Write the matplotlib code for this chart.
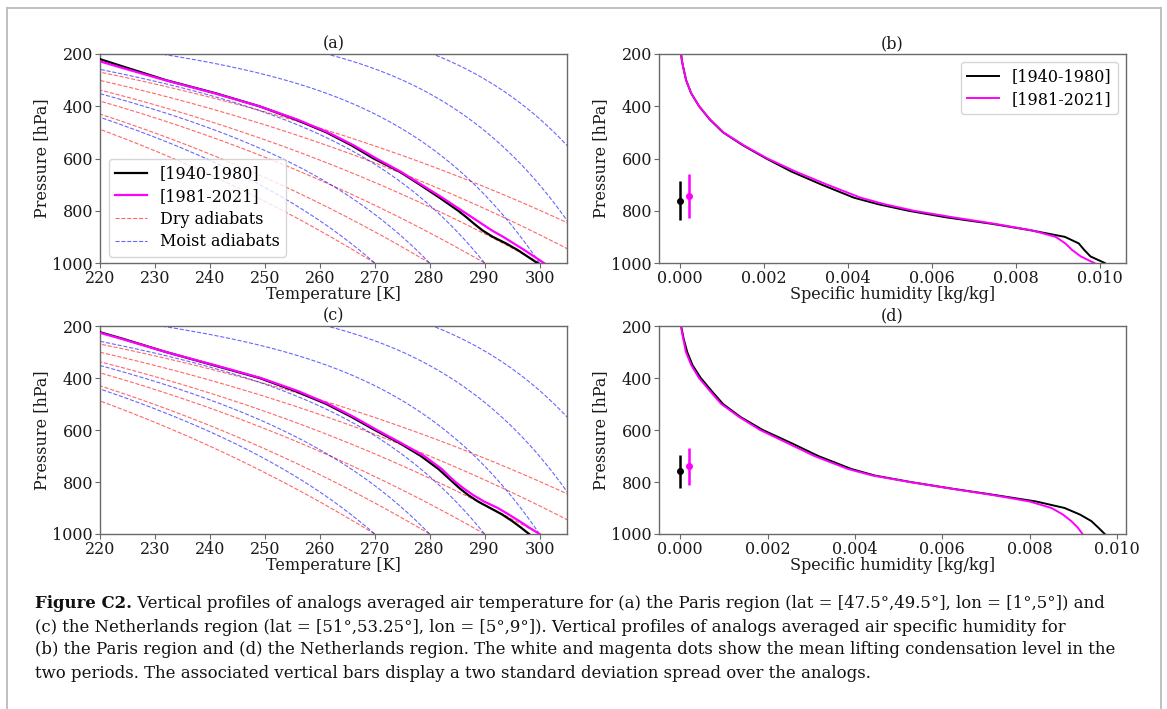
import numpy as np
import matplotlib
matplotlib.use("Agg")
import matplotlib.pyplot as plt
from matplotlib.lines import Line2D

plt.rcParams['font.family'] = ['DejaVu Serif']
plt.rcParams['mathtext.fontset'] = 'dejavuserif'

# ---------------- data ----------------
levels = [200, 225, 250, 300, 350, 400, 450, 500, 550, 600, 650, 700, 750,
          775, 800, 825, 850, 875, 900, 925, 950, 975, 1000]

# (a) Paris temperature [K]
t_paris_old = [217.0, 220.8, 224.5, 232.0, 241.0, 249.0, 255.5, 261.2, 265.8, 269.8,
               274.5, 278.2, 281.8, 283.5, 285.2, 286.7, 288.1, 289.6, 291.5, 293.9,
               296.0, 297.8, 299.6]
t_paris_new = [215.8, 219.5, 223.5, 231.8, 240.8, 249.0, 255.8, 261.5, 266.2, 270.3,
               274.7, 278.5, 282.3, 284.1, 285.9, 287.7, 289.5, 291.3, 293.4, 295.3,
               297.2, 299.0, 300.8]
# (c) Netherlands temperature [K]
t_nl_old = [216.8, 220.2, 224.3, 232.0, 240.5, 249.0, 255.5, 261.2, 265.8, 270.0,
            274.5, 278.4, 281.6, 282.9, 284.2, 285.5, 287.0, 288.8, 291.0, 293.2,
            295.0, 296.6, 298.1]
t_nl_new = [216.5, 219.8, 224.0, 232.0, 240.8, 249.3, 256.0, 261.6, 266.2, 270.4,
            274.8, 279.0, 282.2, 283.4, 284.7, 286.2, 287.9, 289.9, 292.4, 294.4,
            296.3, 298.1, 300.0]

# (b) Paris specific humidity [kg/kg]
q_paris_old = [0.00002, 0.00004, 0.00007, 0.00014, 0.00026, 0.00045, 0.00070, 0.00102,
               0.00150, 0.00205, 0.00265, 0.00337, 0.00414, 0.00472, 0.00544, 0.00633,
               0.00743, 0.00836, 0.00917, 0.00950, 0.00963, 0.00978, 0.01012]
q_paris_new = [0.00002, 0.00004, 0.00007, 0.00014, 0.00026, 0.00045, 0.00071, 0.00103,
               0.00152, 0.00208, 0.00275, 0.00350, 0.00430, 0.00487, 0.00557, 0.00650,
               0.00750, 0.00838, 0.00895, 0.00918, 0.00934, 0.00955, 0.00987]
# (d) Netherlands specific humidity [kg/kg]
q_nl_old = [0.00002, 0.00005, 0.00008, 0.00016, 0.00028, 0.00047, 0.00072, 0.00098,
            0.00138, 0.00189, 0.00254, 0.00316, 0.00392, 0.00445, 0.00527, 0.00620,
            0.00720, 0.00815, 0.00880, 0.00915, 0.00941, 0.00957, 0.00972]
q_nl_new = [0.00002, 0.00004, 0.00007, 0.00013, 0.00025, 0.00043, 0.00068, 0.00094,
            0.00135, 0.00183, 0.00245, 0.00307, 0.00384, 0.00440, 0.00525, 0.00618,
            0.00715, 0.00800, 0.00850, 0.00876, 0.00895, 0.00910, 0.00921]

# lifting condensation level: x position, mean pressure, half spread (2 std)
lcl_x = [0.0, 0.0002]
lcl_paris_p = [761, 745]
lcl_paris_err = [74, 84]
lcl_nl_p = [759, 739]
lcl_nl_err = [64, 71]

# adiabat reference temperatures at 1000 hPa [K]
dry_theta = [270, 280, 290, 300, 310, 320]
moist_t0 = [270, 280, 290, 300, 310, 320]

period_labels = ['[1940-1980]', '[1981-2021]']
colors = ['black', 'magenta']

caption_bold = "Figure C2."
caption_lines = [
    " Vertical profiles of analogs averaged air temperature for (a) the Paris region (lat = [47.5\u00b0,49.5\u00b0], lon = [1\u00b0,5\u00b0]) and",
    "(c) the Netherlands region (lat = [51\u00b0,53.25\u00b0], lon = [5\u00b0,9\u00b0]). Vertical profiles of analogs averaged air specific humidity for",
    "(b) the Paris region and (d) the Netherlands region. The white and magenta dots show the mean lifting condensation level in the",
    "two periods. The associated vertical bars display a two standard deviation spread over the analogs.",
]

# ---------------- adiabat physics ----------------
Rd, Cp, Lv, eps = 287.04749, 1004.6662, 2.50084e6, 0.62196
pgrid = np.linspace(1000.0, 200.0, 801)


def dry_adiabat(theta):
    return theta * (pgrid / 1000.0) ** (Rd / Cp)


def moist_rate(p, T):
    es = 6.112 * np.exp(17.67 * (T - 273.15) / (T - 29.65))
    rs = eps * es / (p - es)
    return (1.0 / p) * (Rd * T + Lv * rs) / (Cp + Lv * Lv * rs * eps / (Rd * T * T))


def moist_adiabat(t0):
    T = np.empty_like(pgrid)
    T[0] = t0
    for i in range(1, len(pgrid)):
        p0, h = pgrid[i - 1], pgrid[i] - pgrid[i - 1]
        t = T[i - 1]
        k1 = moist_rate(p0, t)
        k2 = moist_rate(p0 + h / 2, t + h / 2 * k1)
        k3 = moist_rate(p0 + h / 2, t + h / 2 * k2)
        k4 = moist_rate(p0 + h, t + h * k3)
        T[i] = t + h / 6 * (k1 + 2 * k2 + 2 * k3 + k4)
    return T


# ---------------- figure ----------------
W, H = 1167, 709
fig = plt.figure(figsize=(W / 100, H / 100), dpi=100)


def axes_px(l, t, r, b):
    return fig.add_axes([l / W, 1 - b / H, (r - l) / W, (b - t) / H])


ax_a = axes_px(100, 54, 567, 263)
ax_b = axes_px(659, 54, 1126, 263)
ax_c = axes_px(100, 326, 567, 534)
ax_d = axes_px(659, 326, 1126, 534)

FS = 11.5
spine_col = '#6a6a6a'
txt_col = '#1a1a1a'


def style(ax):
    for s in ax.spines.values():
        s.set_color(spine_col)
        s.set_linewidth(1.0)
    ax.tick_params(labelsize=FS, color=spine_col, length=3.5, width=0.8, pad=1.5,
                   labelcolor=txt_col)
    ax.set_ylim(1000, 200)
    ax.set_yticks([200, 400, 600, 800, 1000])
    ax.set_ylabel('Pressure [hPa]', fontsize=FS, labelpad=2, color=txt_col)


def temp_panel(ax, t_old, t_new, title, legend):
    for i, th in enumerate(dry_theta):
        ax.plot(dry_adiabat(th), pgrid, color='red', ls='--', lw=0.8, alpha=0.6,
                label='Dry adiabats' if i == 0 else None, zorder=1)
    for i, t0 in enumerate(moist_t0):
        ax.plot(moist_adiabat(t0), pgrid, color='blue', ls='--', lw=0.8, alpha=0.6,
                label='Moist adiabats' if i == 0 else None, zorder=1)
    ax.plot(t_old, levels, color=colors[0], lw=1.6, label=period_labels[0], zorder=3)
    ax.plot(t_new, levels, color=colors[1], lw=1.6, label=period_labels[1], zorder=3)
    ax.set_xlim(220, 305)
    ax.set_xticks(np.arange(220, 301, 10))
    style(ax)
    ax.set_xlabel('Temperature [K]', fontsize=FS, labelpad=-1, color=txt_col)
    ax.set_title(title, fontsize=FS, pad=4, color=txt_col)
    if legend:
        h, l = ax.get_legend_handles_labels()
        order = [l.index(period_labels[0]), l.index(period_labels[1]),
                 l.index('Dry adiabats'), l.index('Moist adiabats')]
        ax.legend([h[k] for k in order], [l[k] for k in order], loc='lower left',
                  fontsize=FS, handlelength=2.0, borderaxespad=0.4,
                  labelspacing=0.35, bbox_to_anchor=(0.005, 0.0))


def hum_panel(ax, q_old, q_new, lcl_p, lcl_err, title, legend, xmax):
    ax.plot(q_old, levels, color=colors[0], lw=1.4, label=period_labels[0])
    ax.plot(q_new, levels, color=colors[1], lw=1.4, label=period_labels[1])
    for k in range(2):
        ax.errorbar(lcl_x[k], lcl_p[k], yerr=lcl_err[k], fmt='o', color=colors[k],
                    markersize=4, elinewidth=1.8, capsize=0)
    ax.set_xlim(-0.05 * xmax, 1.05 * xmax)
    ax.set_xticks(np.arange(0, 0.0101, 0.002))
    ax.set_xticklabels(['%.3f' % v for v in np.arange(0, 0.0101, 0.002)])
    style(ax)
    ax.set_xlabel('Specific humidity [kg/kg]', fontsize=FS, labelpad=-1, color=txt_col)
    ax.set_title(title, fontsize=FS, pad=4, color=txt_col)
    if legend:
        ax.legend(loc='upper right', fontsize=FS, handlelength=2.0, labelspacing=0.35)


temp_panel(ax_a, t_paris_old, t_paris_new, '(a)', True)
temp_panel(ax_c, t_nl_old, t_nl_new, '(c)', False)
hum_panel(ax_b, q_paris_old, q_paris_new, lcl_paris_p, lcl_paris_err, '(b)', True,
          max(q_paris_old))
hum_panel(ax_d, q_nl_old, q_nl_new, lcl_nl_p, lcl_nl_err, '(d)', False,
          max(q_nl_old))

# frame around figure
frame_col = '#bbbbbb'
for xs, ys in [([7, 7], [H + 5, 8]), ([7, 1161], [8, 8]), ([1161, 1161], [8, H + 5])]:
    fig.add_artist(Line2D([x / W for x in xs], [1 - y / H for y in ys],
                          color=frame_col, lw=1.3, transform=fig.transFigure))

# caption
cap_fs = 11.9
cap_font = 'DejaVu Serif'
y0 = [604, 627, 650, 673]
tb = fig.text(35 / W, 1 - y0[0] / H, caption_bold, fontsize=cap_fs, family=cap_font,
              weight='bold', va='center', ha='left', color='#111111')
fig.canvas.draw()
bb = tb.get_window_extent(renderer=fig.canvas.get_renderer())
fig.text(bb.x1 / W, 1 - y0[0] / H, caption_lines[0], fontsize=cap_fs, family=cap_font,
         va='center', ha='left', color='#111111')
for i in range(1, 4):
    fig.text(35 / W, 1 - y0[i] / H, caption_lines[i], fontsize=cap_fs, family=cap_font,
             va='center', ha='left', color='#111111')

fig.savefig('out.png', dpi=100)
